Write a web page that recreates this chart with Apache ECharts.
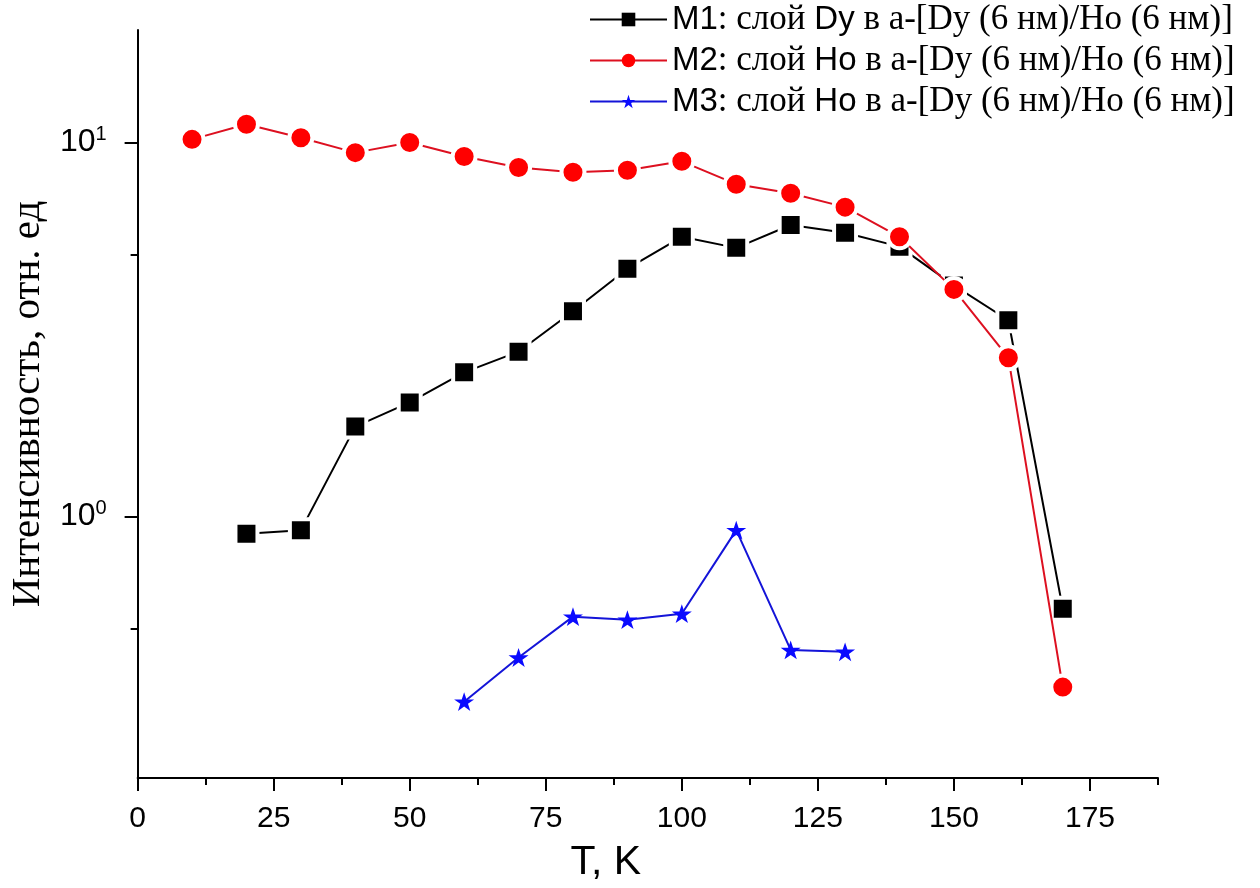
<!DOCTYPE html>
<html>
<head>
<meta charset="utf-8">
<script src="https://cdn.jsdelivr.net/npm/echarts@6/dist/echarts.min.js"></script>
<style>
  html, body { margin: 0; padding: 0; background: #fff; }
  #chart { width: 1260px; height: 888px; }
</style>
</head>
<body>
<div id="chart"></div>
<script>
// Temperatures (K) for each sample series
const tempM1 = [20, 30, 40, 50, 60, 70, 80, 90, 100, 110, 120, 130, 140, 150, 160, 170];
const tempM2 = [10, 20, 30, 40, 50, 60, 70, 80, 90, 100, 110, 120, 130, 140, 150, 160, 170];
const tempM3 = [60, 70, 80, 90, 100, 110, 120, 130];

// Intensity, arbitrary units
const intM1 = [0.90, 0.92, 1.74, 2.02, 2.43, 2.76, 3.54, 4.60, 5.60, 5.23, 6.02, 5.74, 5.27, 4.15, 3.35, 0.567];
const intM2 = [10.2, 11.2, 10.3, 9.4, 10.0, 9.18, 8.58, 8.33, 8.43, 8.91, 7.74, 7.32, 6.72, 5.60, 4.05, 2.66, 0.35];
const intM3 = [0.32, 0.42, 0.54, 0.53, 0.55, 0.92, 0.44, 0.435];

// Axis ticks
const xMajorTicks = [0, 25, 50, 75, 100, 125, 150, 175];
const xMinorTicks = [12.5, 37.5, 62.5, 87.5, 112.5, 137.5, 162.5, 187.5];
const yMajorTicks = [1, 10];
const yMinorTicks = [0.5, 5];

const seriesNames = [
  'M1: слой Dy в а-[Dy (6 нм)/Ho (6 нм)]',
  'M2: слой Ho в а-[Dy (6 нм)/Ho (6 нм)]',
  'M3: слой Ho в а-[Dy (6 нм)/Ho (6 нм)]'
];

const pairs = (xs, ys) => xs.map((x, i) => [x, ys[i]]);

const starPath = 'path://M50,0 L61.8,35.1 L98.9,35.1 L68.8,56.7 L80.2,91.9 L50,70.2 L19.8,91.9 L31.2,56.7 L1.1,35.1 L38.2,35.1 Z';

const SANS = '"Liberation Sans", Arial, sans-serif';
const SERIF = '"Liberation Serif", "Times New Roman", serif';

const chart = echarts.init(document.getElementById('chart'), null, { renderer: 'canvas' });

const axisLineStyle = { color: '#000', width: 2 };

chart.setOption({
  animation: false,
  backgroundColor: '#fff',
  grid: { left: 131, right: 102, top: 30, bottom: 105, containLabel: false },
  legend: {
    orient: 'vertical',
    left: 589,
    top: 2,
    padding: 0,
    itemWidth: 77,
    itemHeight: 17,
    itemGap: 6,
    itemStyle: { borderWidth: 0 },
    lineStyle: { width: 2 },
    data: seriesNames,
    formatter: function (name) {
      const m = name.match(/^(M\d)(: слой )(\S+)( .*)$/);
      return '{s|' + m[1] + '}{t|' + m[2] + '}{s|' + m[3] + '}{t|' + m[4] + '}';
    },
    textStyle: {
      rich: {
        s: { fontFamily: SANS, fontSize: 33, color: '#000', lineHeight: 38 },
        t: { fontFamily: SERIF, fontSize: 35, color: '#000', lineHeight: 38 }
      }
    }
  },
  xAxis: [
    {
      type: 'value',
      position: 'bottom',
      min: 0,
      max: 187.5,
      name: 'T, K',
      nameLocation: 'middle',
      nameGap: 64,
      nameTextStyle: { fontFamily: SANS, fontSize: 41, color: '#000', padding: [0, 84, 0, 0] },
      axisLine: { show: true, lineStyle: axisLineStyle },
      axisTick: { show: true, length: 13, lineStyle: { color: '#000', width: 2 }, customValues: xMajorTicks },
      axisLabel: { customValues: xMajorTicks, margin: 26, fontFamily: SANS, fontSize: 30, color: '#000' },
      splitLine: { show: false }
    },
    {
      type: 'value',
      position: 'bottom',
      min: 0,
      max: 187.5,
      axisLine: { show: false },
      axisTick: { show: true, length: 7, lineStyle: { color: '#000', width: 2 }, customValues: xMinorTicks },
      axisLabel: { show: false },
      splitLine: { show: false }
    }
  ],
  yAxis: [
    {
      type: 'log',
      logBase: 10,
      position: 'left',
      min: 0.2,
      max: 20,
      name: 'Интенсивность, отн. ед',
      nameLocation: 'middle',
      nameGap: 72,
      nameTextStyle: { fontFamily: SERIF, fontSize: 41, color: '#000' },
      axisLine: { show: true, lineStyle: axisLineStyle },
      axisTick: { show: true, length: 13, lineStyle: { color: '#000', width: 2 }, customValues: yMajorTicks },
      axisLabel: {
        customValues: yMajorTicks,
        margin: 31,
        formatter: function (v) {
          return '{b|10}{sup|' + Math.round(Math.log10(v)) + '}';
        },
        rich: {
          b: { fontFamily: SANS, fontSize: 32, color: '#000', lineHeight: 36 },
          sup: { fontFamily: SANS, fontSize: 20, color: '#000', lineHeight: 22, verticalAlign: 'top' }
        }
      },
      splitLine: { show: false }
    },
    {
      type: 'log',
      logBase: 10,
      position: 'left',
      min: 0.2,
      max: 20,
      axisLine: { show: false },
      axisTick: { show: true, length: 7, lineStyle: { color: '#000', width: 2 }, customValues: yMinorTicks },
      axisLabel: { show: false },
      splitLine: { show: false }
    }
  ],
  series: [
    {
      name: seriesNames[0],
      type: 'line',
      xAxisIndex: 0,
      yAxisIndex: 0,
      data: pairs(tempM1, intM1),
      symbol: 'rect',
      symbolSize: 22,
      lineStyle: { color: '#000', width: 2 },
      itemStyle: { color: '#000', borderColor: '#fff', borderWidth: 4 },
      z: 2
    },
    {
      name: seriesNames[1],
      type: 'line',
      xAxisIndex: 0,
      yAxisIndex: 0,
      data: pairs(tempM2, intM2),
      symbol: 'circle',
      symbolSize: 23,
      lineStyle: { color: '#dd1020', width: 2 },
      itemStyle: { color: '#ff0000', borderColor: '#fff', borderWidth: 4 },
      z: 3
    },
    {
      name: seriesNames[2],
      type: 'line',
      xAxisIndex: 0,
      yAxisIndex: 0,
      data: pairs(tempM3, intM3),
      symbol: starPath,
      symbolKeepAspect: true,
      symbolSize: 20,
      lineStyle: { color: '#1414d8', width: 2 },
      itemStyle: { color: '#0a0aff', borderWidth: 0 },
      z: 4
    }
  ]
});
</script>
</body>
</html>
